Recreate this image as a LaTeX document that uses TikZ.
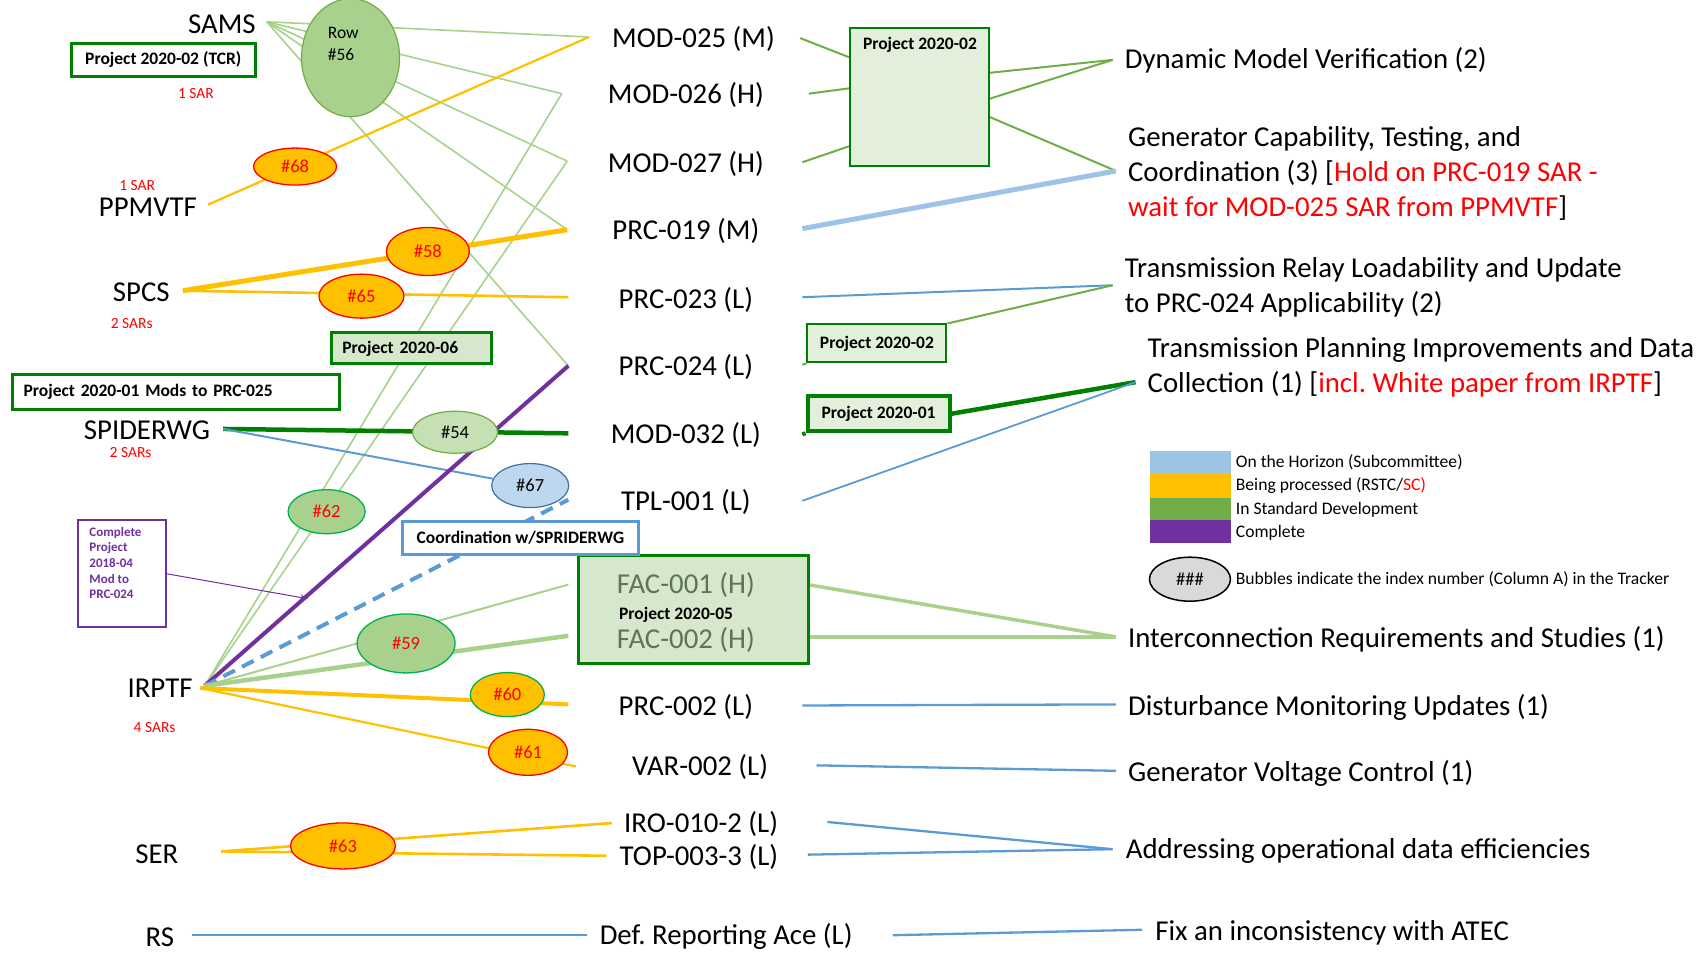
\documentclass[tikz,border=0pt]{standalone}
\usepackage{fontspec}
\setmainfont{Carlito}
\frenchspacing
\usetikzlibrary{shapes.geometric,arrows.meta,backgrounds}
\definecolor{lgreen}{HTML}{A9D18E}
\definecolor{sgreen}{HTML}{70AD47}
\definecolor{dgreen}{HTML}{008000}
\definecolor{bgreen}{HTML}{00B050}
\definecolor{yel}{HTML}{FFC000}
\definecolor{blu}{HTML}{5B9BD5}
\definecolor{lblu}{HTML}{9DC3E6}
\definecolor{purp}{HTML}{7030A0}
\definecolor{pfill}{HTML}{E2EFDA}
\definecolor{facfill}{HTML}{D5E8CB}
\definecolor{bfiftyfour}{HTML}{C5E0B4}
\definecolor{bsixtyseven}{HTML}{BDD7EE}
\definecolor{bsixtysevenline}{HTML}{41719C}
\definecolor{factext}{HTML}{5F7356}
\definecolor{leggray}{HTML}{D9D9D9}
\begin{document}
\begin{tikzpicture}[x=1.0887pt,y=-1.0887pt,
  big/.style={inner sep=0pt, font=\fontsize{28.8}{35}\selectfont},
  rlab/.style={big, anchor=west, align=left},
  sar/.style={inner sep=0pt, text=red, font=\fontsize{15.5}{17}\selectfont},
  bub/.style={ellipse, inner sep=0pt, font=\fontsize{18.5}{20}\selectfont},
  orangebub/.style={bub, fill=yel, draw=red, line width=1.3pt, text=red},
  greenbub/.style={bub, fill=lgreen, draw=bgreen, line width=1.3pt, text=red},
  pbox/.style={rectangle, inner sep=0pt, font=\bfseries\fontsize{17.5}{20}\selectfont},
  legtxt/.style={inner sep=0pt, anchor=west, font=\fontsize{17.6}{20}\selectfont},
  lgl/.style={draw=lgreen, line width=1.6pt},
  sgl/.style={draw=sgreen, line width=2pt},
  yl/.style={draw=yel, line width=2.2pt},
  bl/.style={draw=blu, line width=2.3pt}
]
\useasboundingbox (0,0) rectangle (1567,878.1);

% ---------- left labels ----------
\node[big, anchor=east] (sams) at (235,22.5) {SAMS};
\node[big, anchor=east] (ppmvtf) at (181,190.5) {PPMVTF};
\node[big, anchor=east] (spcs) at (156,268.5) {SPCS};
\node[big, anchor=east] (spider) at (193,395.5) {SPIDERWG};
\node[big, anchor=east] (irptf) at (177,632.5) {IRPTF};
\node[big, anchor=east] (ser) at (164,784.5) {SER};
\node[big, anchor=east] (rs) at (160,860.5) {RS};
\node[sar] (sarA) at (180,86) {1 SAR};
\node[sar] (sarB) at (126,170) {1 SAR};
\node[sar] (sarC) at (121,297) {2 SARs};
\node[sar] (sarD) at (120,416) {2 SARs};
\node[sar] (sarE) at (142,668) {4 SARs};

% ---------- left boxes ----------
\node[pbox, draw=dgreen, line width=2.5pt, fill=white, minimum width=184pt, minimum height=33pt] (tcr) at (150,55) {Project 2020-02 (TCR)};
\node[pbox, draw=dgreen, line width=3pt, fill=facfill, anchor=west, minimum height=31pt, text width=138pt, align=left, inner xsep=11pt] (pzsix) at (303,320) {Project 2020-06};
\node[pbox, draw=dgreen, line width=3.5pt, fill=white, anchor=west, minimum height=35pt, text width=305pt, align=left, inner xsep=11pt] (pzonem) at (10,360) {Project 2020-01 Mods to PRC-025};
\node[draw=purp, line width=2pt, minimum width=87.5pt, minimum height=107pt, inner sep=0pt] (cbox) at (112,527) {};
\node[anchor=north west, inner sep=0pt, align=left, text=purp, font=\bfseries\fontsize{13}{15.6}\selectfont] (ctxt) at (82,484) {Complete\\Project\\2018-04\\Mod to\\PRC-024};

% ---------- middle labels ----------
\node[big] (mtf) at (637,35.5) {MOD-025 (M)};
\node[big] (mts) at (630,87.5) {MOD-026 (H)};
\node[big] (mtv) at (630,150.5) {MOD-027 (H)};
\node[big] (pni) at (630,212.5) {PRC-019 (M)};
\node[big] (ptt) at (630,275.5) {PRC-023 (L)};
\node[big] (ptf) at (630,337.5) {PRC-024 (L)};
\node[big] (mtt) at (630,399.5) {MOD-032 (L)};
\node[big] (tpl) at (630,461.5) {TPL-001 (L)};
\node[draw=dgreen, line width=3pt, fill=facfill, minimum width=230pt, minimum height=108pt, inner sep=0pt] (fac) at (637,559.5) {};
\node[big, text=factext] (facone) at (630,537.5) {FAC-001 (H)};
\node[pbox] (pzfive) at (621,565) {Project 2020-05};
\node[big, text=factext] (factwo) at (630,587.5) {FAC-002 (H)};
\node[big] (ptwo) at (630,649.5) {PRC-002 (L)};
\node[big] (var) at (643,704.5) {VAR-002 (L)};
\node[big] (iro) at (644,756.5) {IRO-010-2 (L)};
\node[big] (top) at (642,787.5) {TOP-003-3 (L)};
\node[big] (def) at (667,860.5) {Def. Reporting Ace (L)};
\node[pbox, draw=blu, line width=3.5pt, fill=white, minimum width=236pt, minimum height=33pt] (coord) at (478,494) {Coordination w/SPRIDERWG};

% ---------- right boxes ----------
\node[draw=dgreen, line width=2.5pt, fill=pfill, minimum width=139pt, minimum height=138pt, inner sep=0pt] (pbig) at (844.5,89) {};
\node[pbox] (pbigt) at (845,41) {Project 2020-02};
\node[pbox, draw=dgreen, line width=2pt, fill=pfill, minimum width=139pt, minimum height=38pt] (psmall) at (805.5,315.5) {Project 2020-02};
\node[pbox, draw=dgreen, line width=4pt, fill=pfill, minimum width=142pt, minimum height=35pt] (pzoner) at (807,380) {Project 2020-01};

% ---------- right labels ----------
\node[rlab] (dyn) at (1033,55.5) {Dynamic Model Verification (2)};
\node[rlab] (gen) at (1036,159.5) {Generator Capability, Testing, and\\Coordination (3) [\textcolor{red}{Hold on PRC-019 SAR -}\\\textcolor{red}{wait for MOD-025 SAR from PPMVTF}]};
\node[rlab] (trl) at (1033,264) {Transmission Relay Loadability and Update\\to PRC-024 Applicability (2)};
\node[rlab] (tpi) at (1054,337.5) {Transmission Planning Improvements and Data\\Collection (1) [\textcolor{red}{incl. White paper from IRPTF}]};
\node[rlab] (intc) at (1036,587.5) {Interconnection Requirements and Studies (1)};
\node[rlab] (dis) at (1036,649.5) {Disturbance Monitoring Updates (1)};
\node[rlab] (gvc) at (1036,710.5) {Generator Voltage Control (1)};
\node[rlab] (adr) at (1034,781.5) {Addressing operational data efficiencies};
\node[rlab] (fix) at (1061,856.5) {Fix an inconsistency with ATEC};

% ---------- legend ----------
\fill[lblu] (1056,414) rectangle (1131,435.5);
\fill[yel] (1056,435.5) rectangle (1131,457);
\fill[sgreen] (1056,457) rectangle (1131,478);
\fill[purp] (1056,478) rectangle (1131,499);
\node[legtxt] (lgone) at (1135,425) {On the Horizon (Subcommittee)};
\node[legtxt] (lgtwo) at (1135,446) {Being processed (RSTC/\textcolor{red}{SC)}};
\node[legtxt] (lgthree) at (1135,468) {In Standard Development};
\node[legtxt] (lgfour) at (1135,489) {Complete};
\node[bub, draw=black, line width=1.5pt, fill=leggray, minimum width=81pt, minimum height=44pt] (legb) at (1093,532) {\#\#\#};
\node[legtxt] (lgfive) at (1135,532) {Bubbles indicate the index number (Column A) in the Tracker};

% ---------- bubbles ----------
\node[bub, fill=lgreen, draw=sgreen, line width=1.2pt, minimum width=98pt, minimum height=118pt] (bfs) at (322,53) {};
\node[anchor=north west, inner sep=0pt, align=left, font=\fontsize{17.5}{22}\selectfont] (bfst) at (301,24.5) {Row\\\#56};
\node[orangebub, minimum width=83pt, minimum height=37pt] (bse) at (271,153) {\#68};
\node[orangebub, minimum width=83pt, minimum height=48pt] (bfe) at (393,231) {\#58};
\node[orangebub, minimum width=85pt, minimum height=44pt] (bsf) at (332,272) {\#65};
\node[bub, fill=bfiftyfour, draw=sgreen, line width=1.2pt, minimum width=85pt, minimum height=42pt] (bff) at (418,397) {\#54};
\node[bub, fill=bsixtyseven, draw=bsixtysevenline, line width=1.2pt, minimum width=77pt, minimum height=44pt] (bss) at (487,446) {\#67};
\node[greenbub, minimum width=77pt, minimum height=44pt] (bst) at (300,470) {\#62};
\node[greenbub, minimum width=98pt, minimum height=59pt] (bfn) at (373,591) {\#59};
\node[bub, fill=yel, draw=bgreen, line width=1.3pt, text=red, minimum width=74pt, minimum height=44pt] (bsz) at (466,638) {\#60};
\node[orangebub, minimum width=79pt, minimum height=46pt] (bso) at (485,691) {\#61};
\node[orangebub, minimum width=105pt, minimum height=46pt] (bsth) at (315,777) {\#63};

% ---------- connector end points ----------
\coordinate (samsP) at (245,20);
\coordinate (ppmP) at (191,188);
\coordinate (spcsP) at (168,267);
\coordinate (spiP) at (205,394);
\coordinate (irP) at (188,630);
\coordinate (irY) at (184,632);
\coordinate (serP) at (203,782);
\coordinate (rsP) at (176,859);
\coordinate (mtfL) at (541,34);
\coordinate (mtsL) at (516,86);
\coordinate (mtvL) at (521,148);
\coordinate (pniL) at (521,211);
\coordinate (pttL) at (522,273);
\coordinate (ptfL) at (522,336);
\coordinate (mttL) at (522,398);
\coordinate (tplL) at (522,459);
\coordinate (faconeL) at (522,537);
\coordinate (factwoL) at (522,584);
\coordinate (ptwoL) at (522,647);
\coordinate (varL) at (529,704);
\coordinate (iroL) at (562,756);
\coordinate (topL) at (557,786);
\coordinate (defL) at (539,859);
\coordinate (mtfR) at (735,35);
\coordinate (mtsR) at (743,86);
\coordinate (mtvR) at (737,149);
\coordinate (pniR) at (737,210);
\coordinate (pttR) at (737,273);
\coordinate (ptfR) at (737,335);
\coordinate (mttR) at (737,399);
\coordinate (tplR) at (737,460);
\coordinate (faconeR) at (742,537);
\coordinate (factwoR) at (742,585);
\coordinate (ptwoR) at (737,648);
\coordinate (varR) at (750,703);
\coordinate (iroR) at (760,755);
\coordinate (topR) at (742,785);
\coordinate (defR) at (820,859);
\coordinate (pbigLa) at (781,53);
\coordinate (pbigLb) at (781,81);
\coordinate (pbigLc) at (781,134);
\coordinate (pbigRa) at (908,67);
\coordinate (pbigRb) at (908,91);
\coordinate (pbigRc) at (908,107);
\coordinate (dynP) at (1022,55);
\coordinate (genP) at (1025,157);
\coordinate (trlP) at (1022,262);
\coordinate (tpiP) at (1043,351);
\coordinate (intP) at (1025,585);
\coordinate (disP) at (1025,647);
\coordinate (gvcP) at (1025,708);
\coordinate (adP) at (1022,780);
\coordinate (fixP) at (1049,854);
\coordinate (arrP) at (283,550);

\begin{pgfonlayer}{background}
% SAMS fan
\draw[lgl] (samsP) -- (mtfL);
\draw[lgl] (samsP) -- (mtsL);
\draw[lgl] (samsP) -- (mtvL);
\draw[lgl] (samsP) -- (pniL);
\draw[lgl] (samsP) -- (ptfL);
% IRPTF green up
\draw[lgl] (irP) -- (mtsL);
\draw[lgl] (irP) -- (mtvL);
% PPMVTF
\draw[yl] (ppmP) -- (mtfL);
% SPCS
\draw[draw=yel, line width=5pt] (spcsP) -- (pniL);
\draw[draw=yel, line width=2.6pt] (spcsP) -- (pttL);
% SPIDERWG
\draw[draw=dgreen, line width=4.5pt] (spiP) -- (mttL);
\draw[draw=blu, line width=2pt] (spiP) -- (bss);
% IRPTF
\draw[draw=purp, line width=4pt] (irP) -- (ptfL);
\draw[draw=blu, line width=4pt, dash pattern=on 13pt off 8pt] (irP) -- (tplL);
\draw[draw=lgreen, line width=2pt] (irP) -- (faconeL);
\draw[draw=lgreen, line width=4.5pt] (irP) -- (factwoL);
\draw[draw=yel, line width=4pt] (irY) -- (ptwoL);
\draw[yl] (irY) -- (varL);
% SER / RS
\draw[draw=yel, line width=2.6pt] (serP) -- (iroL);
\draw[draw=yel, line width=2.6pt] (serP) -- (topL);
\draw[bl] (rsP) -- (defL);
% right side
\draw[sgl] (mtfR) -- (pbigLa);
\draw[sgl] (mtsR) -- (pbigLb);
\draw[sgl] (mtvR) -- (pbigLc);
\draw[sgl] (pbigRa) -- (dynP);
\draw[sgl] (pbigRb) -- (dynP);
\draw[sgl] (pbigRc) -- (genP);
\draw[draw=lblu, line width=5pt] (pniR) -- (genP);
\draw[draw=blu, line width=2pt] (pttR) -- (trlP);
\draw[sgl] (ptfR) -- (psmall.south west);
\draw[sgl] (psmall.north east) -- (trlP);
\draw[draw=dgreen, line width=4pt] (mttR) -- (pzoner.south west);
\draw[draw=dgreen, line width=4.5pt] (pzoner.east) -- (tpiP);
\draw[draw=blu, line width=1.8pt] (tplR) -- (tpiP);
\draw[draw=lgreen, line width=3.5pt] (faconeR) -- (intP);
\draw[draw=lgreen, line width=3.5pt] (factwoR) -- (intP);
\draw[bl] (ptwoR) -- (disP);
\draw[bl] (varR) -- (gvcP);
\draw[bl] (iroR) -- (adP);
\draw[bl] (topR) -- (adP);
\draw[bl] (defR) -- (fixP);
\end{pgfonlayer}

\draw[draw=purp, line width=1pt, -{Stealth[length=8pt,width=6pt]}] (cbox.east) -- (arrP);
\end{tikzpicture}
\end{document}
